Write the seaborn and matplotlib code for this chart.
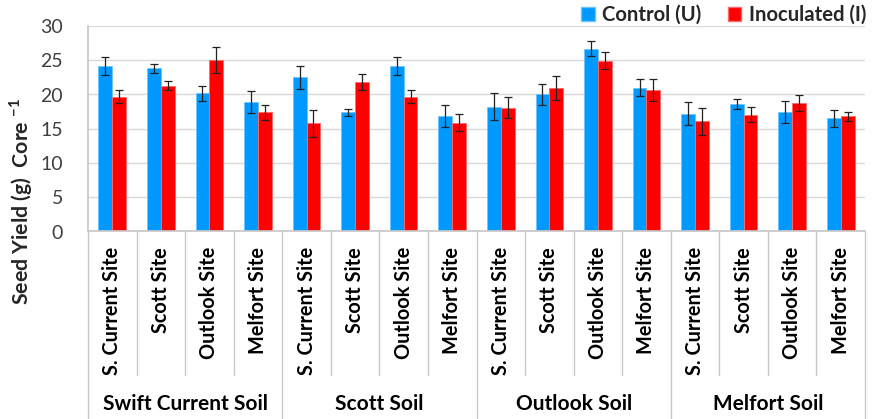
import matplotlib
matplotlib.use("Agg")
import matplotlib.pyplot as plt
import matplotlib.transforms as mtransforms
from matplotlib.patches import Patch
import numpy as np
import pandas as pd
import seaborn as sns

# ---- data -------------------------------------------------------------
soils = ["Swift Current Soil", "Scott Soil", "Outlook Soil", "Melfort Soil"]
sites = ["S. Current Site", "Scott Site", "Outlook Site", "Melfort Site"]
treatments = ["Control (U)", "Inoculated (I)"]

control_mean = [24.2, 23.8, 20.2, 18.9,
                22.5, 17.4, 24.2, 16.9,
                18.2, 20.0, 26.7, 21.0,
                17.2, 18.6, 17.4, 16.5]
control_err = [1.3, 0.7, 1.1, 1.65,
               1.7, 0.55, 1.3, 1.6,
               1.95, 1.6, 1.1, 1.2,
               1.7, 0.7, 1.6, 1.25]
inoc_mean = [19.7, 21.3, 25.1, 17.4,
             15.8, 21.8, 19.7, 15.9,
             18.1, 20.9, 24.95, 20.7,
             16.1, 17.05, 18.8, 16.8]
inoc_err = [1.0, 0.6, 1.9, 1.1,
            1.95, 1.2, 1.0, 1.3,
            1.5, 1.75, 1.3, 1.6,
            1.95, 1.1, 1.15, 0.65]

colors = {"Control (U)": "#0099FF", "Inoculated (I)": "#FF0000"}
edge_colors = {"Control (U)": "#6EC3FF", "Inoculated (I)": "#FF6B6B"}

# ---- long-form table --------------------------------------------------
keys = [f"{soil} | {site}" for soil in soils for site in sites]
site_labels = [site for soil in soils for site in sites]
df = pd.DataFrame({
    "key": keys * 2,
    "treatment": [treatments[0]] * len(keys) + [treatments[1]] * len(keys),
    "yield": control_mean + inoc_mean,
    "err": control_err + inoc_err,
})

# ---- styling ----------------------------------------------------------
sns.set_theme(style="white")
FONT = ["Lato", "DejaVu Sans"]
plt.rcParams["font.family"] = FONT
plt.rcParams["mathtext.fontset"] = "custom"
plt.rcParams["mathtext.rm"] = "Lato:bold"
plt.rcParams["mathtext.bf"] = "Lato:bold"

fig = plt.figure(figsize=(8.8, 4.19), dpi=100)
ax = fig.add_axes([88 / 880, 1 - 231.5 / 419, 777 / 880, 205.5 / 419])

sns.barplot(data=df, x="key", y="yield", hue="treatment", order=keys,
            hue_order=treatments, palette=colors, errorbar=None,
            width=0.57, gap=0, dodge=True, legend=False, ax=ax,
            saturation=1)

# error bars at the centre of each drawn bar
for cont, trt in zip(ax.containers, treatments):
    sub = df[df["treatment"] == trt].set_index("key").loc[keys]
    xs = [p.get_x() + p.get_width() / 2 for p in cont.patches]
    for p in cont.patches:
        p.set_edgecolor(edge_colors[trt])
        p.set_linewidth(0.6)
    ax.errorbar(xs, sub["yield"].values, yerr=sub["err"].values, fmt="none",
                ecolor="#222222", elinewidth=0.9, capsize=3, capthick=0.9,
                zorder=5)

ax.set_xlim(-0.5, len(keys) - 0.5)
ax.set_ylim(0, 30)
ax.set_yticks(np.arange(0, 31, 5))
ax.yaxis.grid(True, color="#D9D9D9", linewidth=1.0)
ax.set_axisbelow(True)
for side in ["top", "right"]:
    ax.spines[side].set_visible(False)
ax.spines["left"].set_color("#C8C8C8")
ax.spines["bottom"].set_color("#C8C8C8")
ax.tick_params(axis="y", length=5, width=1, color="#D9D9D9", pad=13,
               labelsize=14, labelcolor="#404040")
ax.set_xticks(range(len(keys)))
ax.set_xticklabels(site_labels, rotation=90, fontsize=14.3,
                   fontweight="bold", color="#000000")
ax.tick_params(axis="x", length=0, pad=11)
ax.set_xlabel("")
ax.set_ylabel("")

# category separators below the axis
trans = mtransforms.blended_transform_factory(ax.transData, ax.transAxes)
for i in range(len(keys) + 1):
    xb = i - 0.5
    group_edge = (i % len(sites) == 0)
    y_end = -0.92 if group_edge else -0.70
    ax.plot([xb, xb], [0, y_end], transform=trans, color="#C8C8C8",
            linewidth=1, clip_on=False)

# soil group labels
for g, soil in enumerate(soils):
    xc = g * len(sites) + (len(sites) - 1) / 2
    ax.text(xc, -0.84, soil, transform=trans, ha="center", va="center",
            fontsize=15, fontweight="bold", color="#000000")

# y axis title
fig.text(21 / 880, 1 - 201 / 419, r"Seed Yield (g)  Core $^{-1}$",
         rotation=90, ha="center", va="center", fontsize=15.3,
         fontweight="bold")

# legend
handles = [Patch(facecolor=colors[t], edgecolor=edge_colors[t], label=t)
           for t in treatments]
fig.legend(handles=handles, loc="upper right", ncol=2, frameon=False,
           bbox_to_anchor=(874 / 880, 1 + 3 / 419),
           prop={"weight": "bold", "size": 14.6}, handlelength=0.68,
           handleheight=0.68, handletextpad=0.35, columnspacing=1.3,
           borderaxespad=0.0)

fig.savefig("out.png", dpi=100)
